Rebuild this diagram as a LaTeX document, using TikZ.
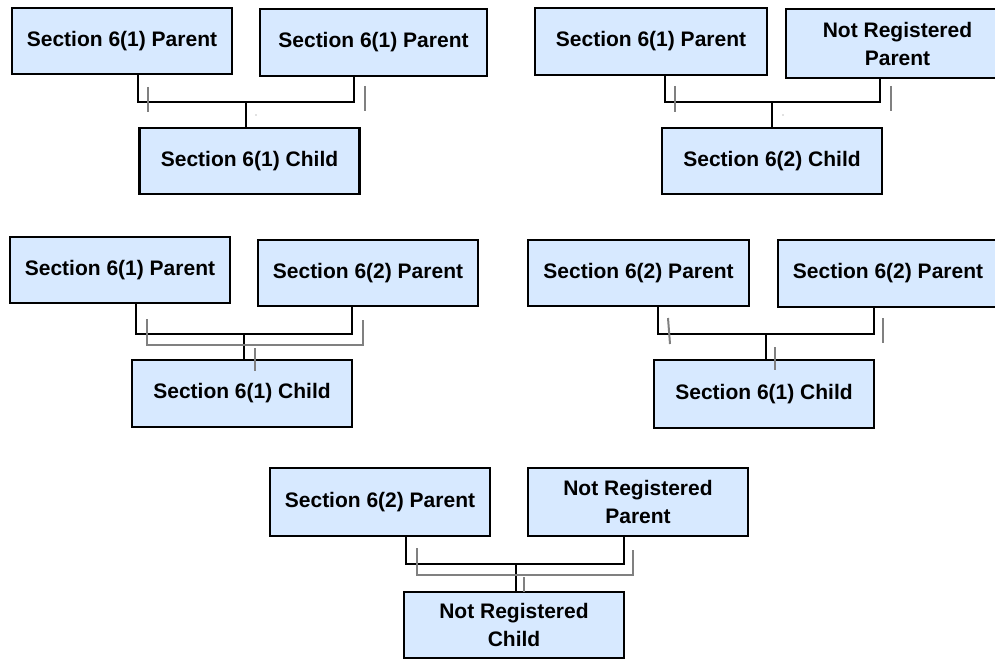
\documentclass[tikz,border=0pt]{standalone}
\usepackage{xcolor}
\usepackage{fontspec}
\setmainfont{Liberation Sans}
\usepackage{tikz}
\usetikzlibrary{positioning}
\definecolor{boxfill}{HTML}{D7E9FF}
\definecolor{ghostgray}{HTML}{808080}
\tikzset{
    famblock/.style={
        rectangle, draw=black, fill=boxfill,
        minimum width=220pt, minimum height=66pt, inner sep=0pt,
        font=\bfseries\fontsize{21}{28}\selectfont, align=center,
        line width=2.5pt
    },
    linkline/.style={
        line width=2.5pt, black
    },
    ghostline/.style={
        line width=2pt, ghostgray
    },
}
\begin{document}
\begin{tikzpicture}[x=1pt, y=-1pt]
    \useasboundingbox (0,0) rectangle (995,660);

    % Case 1: 6(1) + 6(1)
    \node[famblock] (pa1) at (122,41) {Section 6(1) Parent};
    \node[famblock, minimum width=227pt, minimum height=67pt] (pb1) at (373.5,42.5) {Section 6(1) Parent};
    \node[famblock] (ch1) at (249.5,161) {Section 6(1) Child};
    \coordinate (j1) at (246,102);

    % Case 2: 6(1) + not registered
    \node[famblock, minimum width=232pt, minimum height=67pt] (pa2) at (651,41.5) {Section 6(1) Parent};
    \node[famblock, minimum width=223pt, minimum height=69pt] (pb2) at (897.5,43.5) {Not Registered\\Parent};
    \node[famblock] (ch2) at (772,161) {Section 6(2) Child};
    \coordinate (j2) at (772,102);

    % Case 3: 6(1) + 6(2)
    \node[famblock] (pa3) at (120,270) {Section 6(1) Parent};
    \node[famblock] (pb3) at (368,273) {Section 6(2) Parent};
    \node[famblock, minimum height=67pt] (ch3) at (242,393.5) {Section 6(1) Child};
    \coordinate (j3) at (244,334);

    % Case 4: 6(2) + 6(2)
    \node[famblock, minimum width=221pt] (pa4) at (638.5,273) {Section 6(2) Parent};
    \node[famblock, minimum height=67pt] (pb4) at (888,273.5) {Section 6(2) Parent};
    \node[famblock, minimum height=68pt] (ch4) at (764,394) {Section 6(1) Child};
    \coordinate (j4) at (766,334);

    % Case 5: 6(2) + not registered
    \node[famblock, minimum height=68pt] (pa5) at (380,502) {Section 6(2) Parent};
    \node[famblock, minimum height=68pt] (pb5) at (638,502) {Not Registered\\Parent};
    \node[famblock] (ch5) at (514,625) {Not Registered\\Child};
    \coordinate (j5) at (516,564);

    % Parent links
    \draw[linkline] ([xshift=16]pa1.south) |- (j1) -| ([xshift=-19.5]pb1.south);
    \draw[linkline] ([xshift=14]pa2.south) |- (j2) -| ([xshift=-17.5]pb2.south);
    \draw[linkline] ([xshift=16]pa3.south) |- (j3) -| ([xshift=-16]pb3.south);
    \draw[linkline] ([xshift=19.5]pa4.south) |- (j4) -| ([xshift=-14]pb4.south);
    \draw[linkline] ([xshift=26]pa5.south) |- (j5) -| ([xshift=-14]pb5.south);

    % Child links
    \draw[linkline] (j1) -- (j1 |- ch1.north);
    \draw[linkline] (j2) -- (j2 |- ch2.north);
    \draw[linkline] (j3) -- (j3 |- ch3.north);
    \draw[linkline] (j4) -- (j4 |- ch4.north);
    \draw[linkline] (j5) -- (j5 |- ch5.north);

    % Grey offset strokes
    \draw[ghostline] (148,87) -- (148,112);
    \draw[ghostline] (365,86) -- (365,111);
    \fill[ghostgray] (256,115) circle (0.7);
    \draw[ghostline] (675,86) -- (675,112);
    \draw[ghostline] (891,86) -- (891,111);
    \fill[ghostgray] (783,115) circle (0.7);
    \draw[ghostline] (147,319) -- (147,345) -- (363,345) -- (363,320);
    \draw[ghostline] (255,348) -- (255,371);
    \draw[ghostline] (668,318) -- (670,344);
    \draw[ghostline] (883,318) -- (883,343);
    \draw[ghostline] (775,347) -- (775,370);
    \draw[ghostline] (417,548) -- (417,575) -- (633,575) -- (633,550);
    \draw[ghostline] (524,577) -- (524,592);

\end{tikzpicture}
\end{document}
